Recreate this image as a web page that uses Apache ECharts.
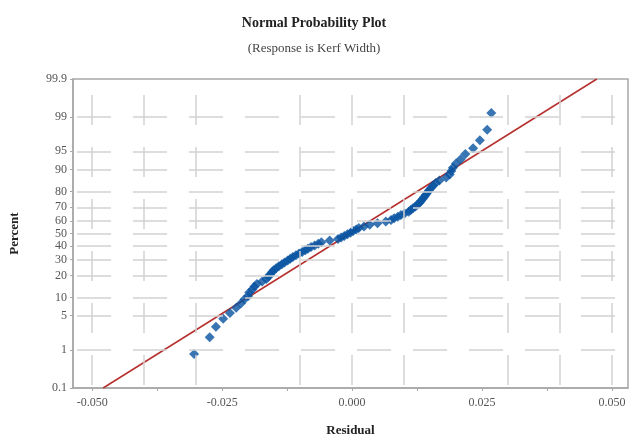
<!DOCTYPE html>
<html>
<head>
<meta charset="utf-8">
<title>Normal Probability Plot</title>
<script src="https://cdn.jsdelivr.net/npm/echarts@6/dist/echarts.min.js"></script>
<style>
  html, body { margin: 0; padding: 0; background: #fff; }
  #main { width: 632px; height: 442px; }
</style>
</head>
<body>
<div id="main"></div>
<script>
// residuals (sorted) and their plotted percent
var residuals = [
  -0.0304, -0.0274, -0.0262, -0.0248, -0.0235, -0.0223, -0.0214, -0.0207, -0.0200, -0.0198,
  -0.0192, -0.0188, -0.0183, -0.0173, -0.0165, -0.0161, -0.0158, -0.0154, -0.0151, -0.0146,
  -0.0141, -0.0135, -0.0130, -0.0124, -0.0119, -0.0114, -0.0108, -0.0102, -0.0096, -0.0090,
  -0.0085, -0.0079, -0.0072, -0.0065, -0.0059, -0.0043, -0.0027, -0.0021, -0.0015, -0.0009,
  -0.0003, 0.0002, 0.0008, 0.0013, 0.0023, 0.0034, 0.0049, 0.0065, 0.0075, 0.0081,
  0.0088, 0.0094, 0.0101, 0.0109, 0.0113, 0.0117, 0.0122, 0.0126, 0.0130, 0.0133,
  0.0136, 0.0139, 0.0142, 0.0145, 0.0148, 0.0152, 0.0156, 0.0161, 0.0168, 0.0181,
  0.0188, 0.0191, 0.0194, 0.0200, 0.0209, 0.0218, 0.0233, 0.0246, 0.0260, 0.0268
];
var percents = [
  0.8, 1.9, 3.1, 4.4, 5.6, 6.9, 8.1, 9.4, 10.6, 11.9,
  13.1, 14.4, 15.6, 16.9, 18.1, 19.4, 20.6, 21.9, 23.1, 24.4,
  25.6, 26.9, 28.1, 29.4, 30.6, 31.9, 33.1, 34.4, 35.6, 36.9,
  38.1, 39.4, 40.6, 41.9, 43.1, 44.4, 45.6, 46.9, 48.1, 49.4,
  50.6, 51.9, 53.1, 54.4, 55.6, 56.9, 58.1, 59.4, 60.6, 61.9,
  63.1, 64.4, 65.6, 66.9, 68.1, 69.4, 70.6, 71.9, 73.1, 74.4,
  75.6, 76.9, 78.1, 79.4, 80.6, 81.9, 83.1, 84.4, 85.6, 86.9,
  88.1, 89.4, 90.6, 91.9, 93.1, 94.4, 95.6, 96.9, 98.1, 99.2
];
// fitted reference line end points
var fitResidual = [-0.0479, 0.0471];
var fitPercent = [0.1, 99.9];

// axis ticks
var pctTicks = [0.1, 1, 5, 10, 20, 30, 40, 50, 60, 70, 80, 90, 95, 99, 99.9];
var pctGrid = [1, 5, 10, 20, 30, 40, 50, 60, 70, 80, 90, 95, 99];
var xLabels = [-0.05, -0.025, 0, 0.025, 0.05];
var xGrid = [-0.05, -0.0375, -0.025, -0.0125, 0, 0.0125, 0.025, 0.0375, 0.05];

// inverse normal cdf (Acklam), used for the probability scale
function normInv(p) {
  var a = [-3.969683028665376e+01, 2.209460984245205e+02, -2.759285104469687e+02, 1.383577518672690e+02, -3.066479806614716e+01, 2.506628277459239e+00];
  var b = [-5.447609879822406e+01, 1.615858368580409e+02, -1.556989798598866e+02, 6.680131188771972e+01, -1.328068155288572e+01];
  var c = [-7.784894002430293e-03, -3.223964580411365e-01, -2.400758277161838e+00, -2.549732539343734e+00, 4.374664141464968e+00, 2.938163982698783e+00];
  var d = [7.784695709041462e-03, 3.224671290700398e-01, 2.445134137142996e+00, 3.754408661907416e+00];
  var plow = 0.02425, q, r;
  if (p < plow) {
    q = Math.sqrt(-2 * Math.log(p));
    return (((((c[0]*q+c[1])*q+c[2])*q+c[3])*q+c[4])*q+c[5]) / ((((d[0]*q+d[1])*q+d[2])*q+d[3])*q+1);
  }
  if (p <= 1 - plow) {
    q = p - 0.5; r = q * q;
    return (((((a[0]*r+a[1])*r+a[2])*r+a[3])*r+a[4])*r+a[5])*q / (((((b[0]*r+b[1])*r+b[2])*r+b[3])*r+b[4])*r+1);
  }
  q = Math.sqrt(-2 * Math.log(1 - p));
  return -(((((c[0]*q+c[1])*q+c[2])*q+c[3])*q+c[4])*q+c[5]) / ((((d[0]*q+d[1])*q+d[2])*q+d[3])*q+1);
}
function z(pct) { return normInv(pct / 100); }

var zTicks = pctTicks.map(z);
var points = residuals.map(function (r, i) { return [r, z(percents[i])]; });
var fitLine = fitResidual.map(function (r, i) { return [r, z(fitPercent[i])]; });

var gridColor = '#d2d2d2';
var gridLines = [];
xGrid.forEach(function (v) {
  gridLines.push({ xAxis: v, lineStyle: { color: gridColor, width: 1.5, type: [30, 22], dashOffset: -3 } });
});
pctGrid.forEach(function (p) {
  gridLines.push({ yAxis: z(p), lineStyle: { color: gridColor, width: 1.5, type: [34, 22], dashOffset: -4 } });
});

var serif = '"Liberation Serif", "DejaVu Serif", serif';
var myChart = echarts.init(document.getElementById('main'));

var option = {
  animation: false,
  title: [
    {
      text: 'Normal Probability Plot',
      left: 309, top: 11, textAlign: 'center',
      textStyle: { fontFamily: serif, fontSize: 14, fontWeight: 'bold', color: '#222' }
    },
    {
      text: '(Response is Kerf Width)',
      left: 309, top: 37, textAlign: 'center',
      textStyle: { fontFamily: serif, fontSize: 13, fontWeight: 'normal', color: '#444' }
    }
  ],
  grid: {
    left: 73, right: 4, top: 79, bottom: 50,
    show: true, borderColor: '#a8a8a8', borderWidth: 1.5, backgroundColor: 'transparent'
  },
  xAxis: {
    type: 'value',
    min: -0.0537, max: 0.0531,
    name: 'Residual', nameLocation: 'middle', nameGap: 36,
    nameTextStyle: { fontFamily: serif, fontSize: 13, fontWeight: 'bold', color: '#222' },
    axisLine: { show: true, onZero: false, lineStyle: { color: '#a8a8a8', width: 1.5 } },
    axisTick: { show: true, customValues: xGrid, length: 3, lineStyle: { color: '#a8a8a8' } },
    axisLabel: {
      customValues: xLabels, margin: 9,
      fontFamily: serif, fontSize: 12, color: '#555',
      formatter: function (v) { return v.toFixed(3); }
    },
    splitLine: { show: false }
  },
  yAxis: {
    type: 'value',
    min: zTicks[0], max: zTicks[zTicks.length - 1],
    name: 'Percent', nameLocation: 'middle', nameGap: 52, nameRotate: 90,
    nameTextStyle: { fontFamily: serif, fontSize: 13, fontWeight: 'bold', color: '#222' },
    axisLine: { show: true, onZero: false, lineStyle: { color: '#a8a8a8', width: 1.5 } },
    axisTick: { show: true, customValues: zTicks, length: 3, lineStyle: { color: '#a8a8a8' } },
    axisLabel: {
      customValues: zTicks, margin: 6,
      fontFamily: serif, fontSize: 12, color: '#555',
      formatter: function (v) {
        var best = 0;
        for (var i = 1; i < zTicks.length; i++) {
          if (Math.abs(zTicks[i] - v) < Math.abs(zTicks[best] - v)) best = i;
        }
        return String(pctTicks[best]);
      }
    },
    splitLine: { show: false }
  },
  series: [
    {
      name: 'grid',
      type: 'line',
      data: [],
      silent: true,
      z: 1,
      markLine: {
        silent: true,
        symbol: 'none',
        label: { show: false },
        animation: false,
        data: gridLines
      }
    },
    {
      name: 'fit',
      type: 'line',
      data: fitLine,
      symbol: 'none',
      silent: true,
      z: 2,
      lineStyle: { color: '#b5302e', width: 1.5 }
    },
    {
      name: 'residuals',
      type: 'scatter',
      data: points,
      symbol: 'diamond',
      symbolSize: 10,
      z: 3,
      itemStyle: { color: '#0852a0' }
    }
  ]
};

myChart.setOption(option);
</script>
</body>
</html>
